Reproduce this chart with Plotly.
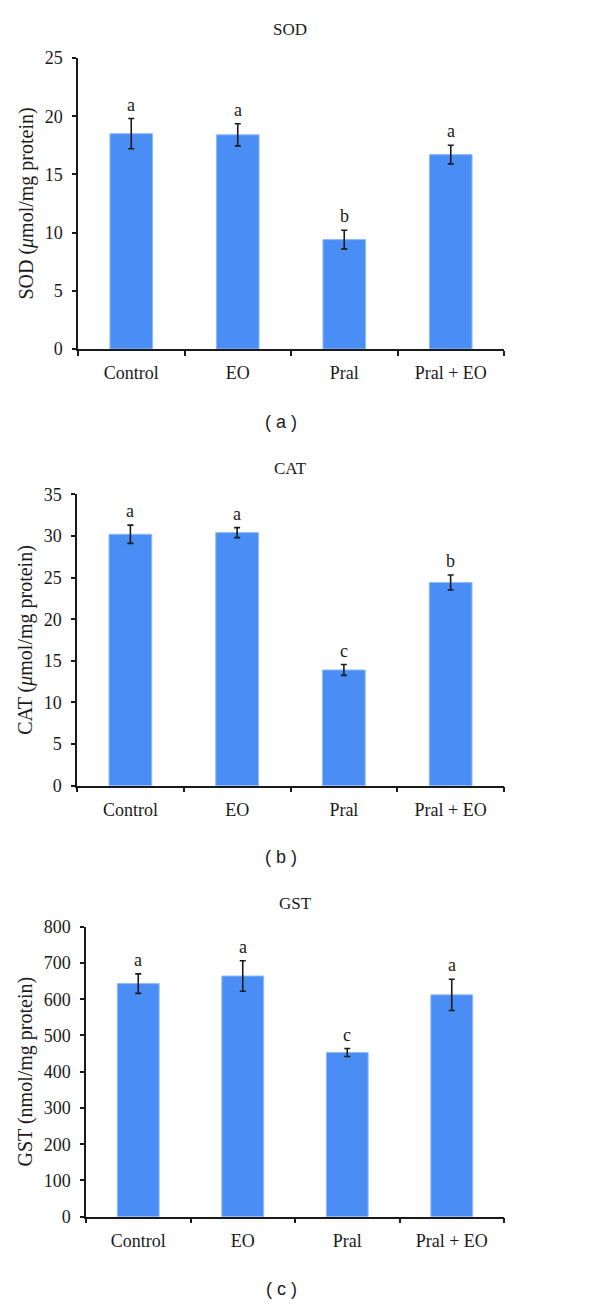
import plotly.graph_objects as go

grupos = ['Control', 'EO', 'Pral', 'Pral + EO']

sod = [18.5, 18.4, 9.4, 16.7]
sod_err = [1.3, 0.95, 0.8, 0.8]
sod_letras = ['a', 'a', 'b', 'a']

cat = [30.2, 30.4, 13.9, 24.4]
cat_err = [1.1, 0.6, 0.65, 0.9]
cat_letras = ['a', 'a', 'c', 'b']

gst = [643, 664, 453, 612]
gst_err = [27, 42, 11, 43]
gst_letras = ['a', 'a', 'c', 'a']

paneles = [
    ('SOD', 'SOD (<i>μ</i>mol/mg protein)', sod, sod_err, sod_letras, [0, 25], 5, '( a )'),
    ('CAT', 'CAT (<i>μ</i>mol/mg protein)', cat, cat_err, cat_letras, [0, 35], 5, '( b )'),
    ('GST', 'GST (nmol/mg protein)', gst, gst_err, gst_letras, [0, 800], 100, '( c )'),
]

H = 1305
W = 600
SERIF = 'Liberation Serif'
NEGRO = '#1a1a1a'
AZUL = '#4a8ef5'

# posiciones en pixeles de cada panel (izq, arriba, abajo) y de sus textos
cajas = [(78, 58, 349), (77, 494.3, 785.7), (86, 926.7, 1216.7)]
titulos_y = [30, 468, 903]
titulos_x = [290, 290, 295]
etiquetas_y = [422, 857, 1289]

fig = go.Figure()

for i, (tit, ytit, vals, errs, letras, rango, paso, etiqueta) in enumerate(paneles):
    n = '' if i == 0 else str(i + 1)
    izq, arr, aba = cajas[i]

    fig.add_trace(go.Bar(
        x=grupos, y=vals,
        marker=dict(color=AZUL, line=dict(color='#8fbaf8', width=1)),
        error_y=dict(type='data', array=errs, color=NEGRO, thickness=1.6, width=3),
        xaxis='x' + n, yaxis='y' + n, showlegend=False,
    ))

    # letras de significancia encima de cada barra de error
    for g, v, e, l in zip(grupos, vals, errs, letras):
        fig.add_annotation(x=g, y=v + e, text=l, xref='x' + n, yref='y' + n,
                           showarrow=False, yanchor='bottom', yshift=2,
                           font=dict(family=SERIF, size=18, color=NEGRO))

    eje_x = dict(
        domain=[izq / W, 504 / W], anchor='y' + n, range=[-0.5, 3.5],
        showline=True, linecolor=NEGRO, linewidth=1.5,
        ticks='outside', ticklen=5, tickwidth=1.5, tickcolor=NEGRO,
        tickson='boundaries', showgrid=False, ticklabelstandoff=7,
        tickfont=dict(family=SERIF, size=18, color=NEGRO),
    )
    eje_y = dict(
        domain=[1 - aba / H, 1 - arr / H], anchor='x' + n, range=rango, dtick=paso,
        showline=True, linecolor=NEGRO, linewidth=1.5,
        ticks='outside', ticklen=4, tickwidth=1.5, tickcolor=NEGRO,
        showgrid=False, zeroline=False, ticklabelstandoff=6,
        tickfont=dict(family=SERIF, size=18, color=NEGRO),
        title=dict(text=ytit, font=dict(family=SERIF, size=20, color=NEGRO), standoff=6),
        automargin=False,
    )
    fig.update_layout({'xaxis' + n: eje_x, 'yaxis' + n: eje_y})

    fig.add_annotation(text=tit, x=titulos_x[i] / W, y=1 - titulos_y[i] / H,
                       xref='paper', yref='paper', showarrow=False, yanchor='middle',
                       font=dict(family=SERIF, size=17, color=NEGRO))
    fig.add_annotation(text=etiqueta, x=281 / W, y=1 - etiquetas_y[i] / H,
                       xref='paper', yref='paper', showarrow=False, yanchor='middle',
                       font=dict(family='Liberation Sans', size=18, color=NEGRO))

fig.update_layout(
    width=W, height=H,
    margin=dict(l=0, r=0, t=0, b=0),
    plot_bgcolor='white', paper_bgcolor='white',
    bargap=0.6,
)

fig.write_html('out.html', config={'displayModeBar': False},
               post_script="document.body.style.margin='0';")
